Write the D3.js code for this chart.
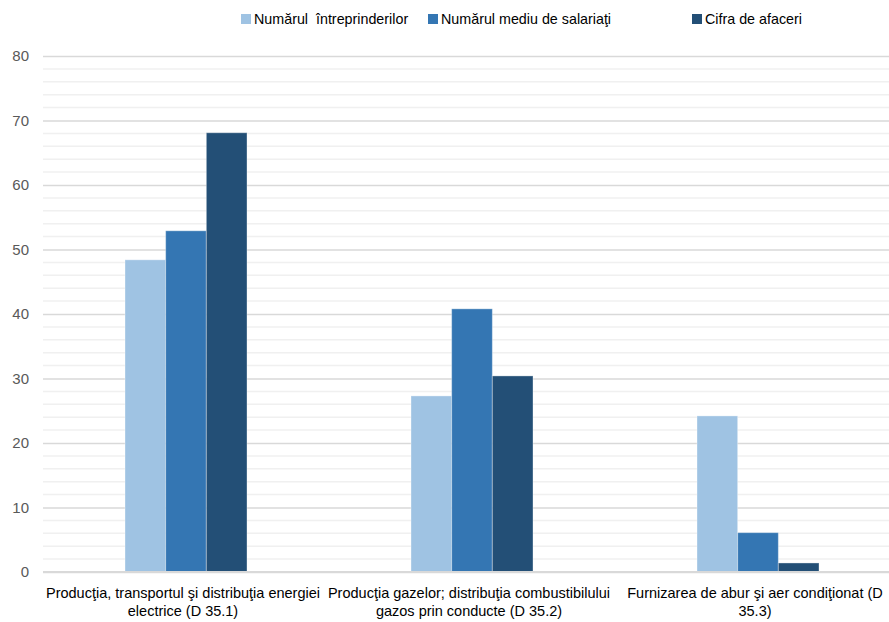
<!DOCTYPE html>
<html>
<head>
<meta charset="utf-8">
<script src="https://cdn.jsdelivr.net/npm/d3@7"></script>
<style>
html,body{margin:0;padding:0;background:#fff;}
svg{display:block;font-family:"Liberation Sans Narrow","Arial Narrow","Liberation Sans",Arial,sans-serif;}
</style>
</head>
<body>
<svg id="chart" width="889" height="622"></svg>
<script>
const categories = [
  "Producţia, transportul şi distribuţia energiei\nelectrice (D 35.1)",
  "Producţia gazelor; distribuţia combustibilului\ngazos prin conducte (D 35.2)",
  "Furnizarea de abur şi aer condiţionat (D\n35.3)"
];
const seriesNames = ["Numărul  întreprinderilor", "Numărul mediu de salariaţi", "Cifra de afaceri"];
const seriesColors = ["#9fc3e3", "#3476b3", "#234f76"];
const intreprinderi = [48.4, 27.3, 24.2];
const salariati = [52.9, 40.8, 6.1];
const cifraAfaceri = [68.1, 30.4, 1.4];
const yTicks = [0, 10, 20, 30, 40, 50, 60, 70, 80];

const seriesValues = [intreprinderi, salariati, cifraAfaceri];
const svg = d3.select("#chart");

const y = d3.scaleLinear().domain([0, 80]).range([572, 56]);
const x0 = d3.scaleBand().domain(categories).range([43, 901]).paddingInner(0.5734).paddingOuter(0.2867);
const x1 = d3.scaleBand().domain(seriesNames).range([0, x0.bandwidth()]);

// minor gridlines
const minor = d3.range(0, 81, 2).filter(v => v % 10 !== 0);
svg.append("g").selectAll("line").data(minor).join("line")
  .attr("x1", 43).attr("x2", 889)
  .attr("y1", d => y(d)).attr("y2", d => y(d))
  .attr("stroke", "#f0f0f0").attr("stroke-width", 1.5);

// major gridlines via axis
const yAxis = d3.axisLeft(y).tickValues(yTicks).tickSize(-(889 - 43)).tickPadding(14);
const gy = svg.append("g").attr("transform", "translate(43,0)").call(yAxis);
gy.select(".domain").remove();
gy.selectAll(".tick line").attr("stroke", "#d9d9d9").attr("stroke-width", 1.5);
gy.selectAll(".tick text").attr("fill", "#595959").attr("font-size", 15);

// bars
const groups = svg.append("g").selectAll("g").data(categories).join("g")
  .attr("transform", d => `translate(${x0(d)},0)`);
groups.selectAll("rect").data((d, i) => seriesNames.map((s, j) => ({s, j, v: seriesValues[j][i]})))
  .join("rect")
  .attr("x", d => x1(d.s))
  .attr("width", x1.bandwidth())
  .attr("y", d => y(d.v))
  .attr("height", d => y(0) - y(d.v))
  .attr("fill", d => seriesColors[d.j])
  .attr("stroke", "rgba(255,255,255,0.35)")
  .attr("stroke-width", 1);

// x axis line
svg.append("line").attr("x1", 43).attr("x2", 889).attr("y1", y(0)).attr("y2", y(0))
  .attr("stroke", "#d9d9d9").attr("stroke-width", 2);

// category labels
const xAxis = d3.axisBottom(x0).tickSize(0).tickFormat("");
const gx = svg.append("g").attr("transform", `translate(0,${y(0)})`).call(xAxis);
gx.select(".domain").remove();
gx.selectAll(".tick").each(function(d) {
  const t = d3.select(this).append("text").attr("text-anchor", "middle")
    .attr("fill", "#000").attr("font-size", 14.5);
  d.split("\n").forEach((line, i) => {
    t.append("tspan").attr("x", -3).attr("y", 26 + i * 18).text(line);
  });
});

// legend
const legendX = [241, 428, 692];
const lg = svg.append("g").selectAll("g").data(seriesNames).join("g")
  .attr("transform", (d, i) => `translate(${legendX[i]},0)`);
lg.append("rect").attr("x", 0).attr("y", 14).attr("width", 10).attr("height", 10)
  .attr("fill", (d, i) => seriesColors[i]);
lg.append("text").attr("x", 13).attr("y", 24).attr("font-size", 14.3).attr("fill", "#000")
  .attr("xml:space", "preserve").style("white-space", "pre").text(d => d);
</script>
</body>
</html>
